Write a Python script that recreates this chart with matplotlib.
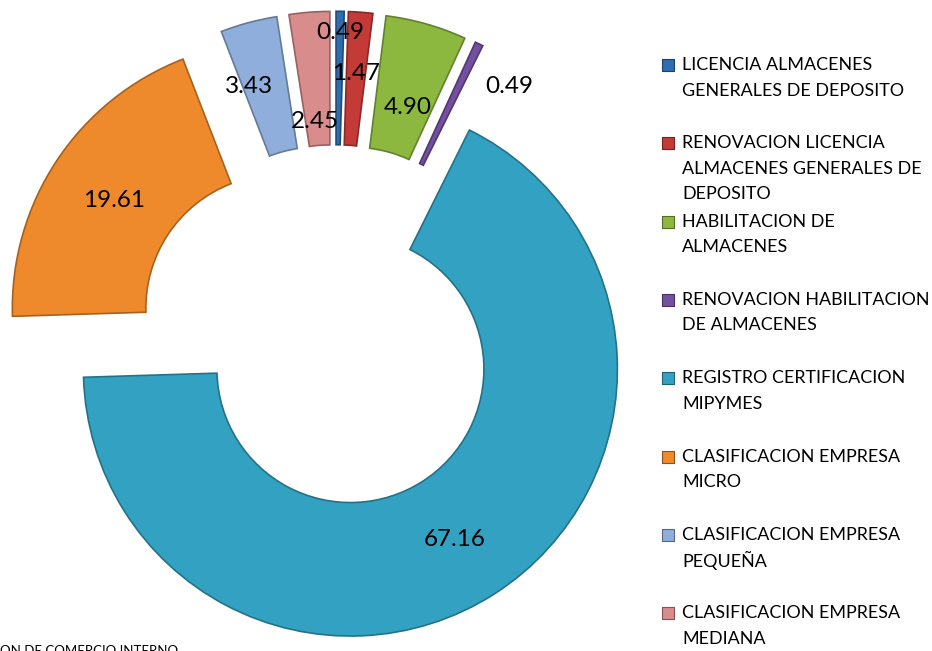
import numpy as np
import matplotlib.pyplot as plt
import matplotlib.colors as mcolors

plt.rcParams['font.family'] = ['Lato', 'DejaVu Sans']

# ---------------------------------------------
# DATA
# ---------------------------------------------
categories = [
    "LICENCIA ALMACENES GENERALES DE DEPOSITO",
    "RENOVACION LICENCIA ALMACENES GENERALES DE DEPOSITO",
    "HABILITACION DE ALMACENES",
    "RENOVACION HABILITACION DE ALMACENES",
    "REGISTRO CERTIFICACION MIPYMES",
    "CLASIFICACION EMPRESA MICRO",
    "CLASIFICACION EMPRESA PEQUEÑA",
    "CLASIFICACION EMPRESA MEDIANA",
]
values = [0.49, 1.47, 4.90, 0.49, 67.16, 19.61, 3.43, 2.45]

legend_lines = [
    ["LICENCIA ALMACENES", "GENERALES DE DEPOSITO"],
    ["RENOVACION LICENCIA", "ALMACENES GENERALES DE", "DEPOSITO"],
    ["HABILITACION DE", "ALMACENES"],
    ["RENOVACION HABILITACION", "DE ALMACENES"],
    ["REGISTRO CERTIFICACION", "MIPYMES"],
    ["CLASIFICACION EMPRESA", "MICRO"],
    ["CLASIFICACION EMPRESA", "PEQUEÑA"],
    ["CLASIFICACION EMPRESA", "MEDIANA"],
]

colors = ["#2E6DB0", "#C43A37", "#8DB840", "#7350A0",
          "#33A2C2", "#EF8A2C", "#8FAEDB", "#D98C8C"]

footnote = "ON DE COMERCIO INTERNO"

# ---------------------------------------------
# LAYOUT / STYLE
# ---------------------------------------------
W, H = 932, 651
R = 267                # outer radius (px)
HOLE = 0.5             # inner / outer radius
CENTER = (335, H - 345)
explode = [0.25, 0.25, 0.25, 0.25, 0.107, 0.25, 0.25, 0.25]

# label placement: fraction of radius and angle tweak per slice
label_r = [0.92, 0.77, 0.68, 0.92, 0.75, 0.74, 0.77, 0.59]
label_da = [0, 0, -1.5, -10.7, -1.2, 0.5, 4.4, 1.1]


def darker(c, f=0.75):
    r, g, b = mcolors.to_rgb(c)
    return (r * f, g * f, b * f)


fig = plt.figure(figsize=(W / 100, H / 100), dpi=100)
ax = fig.add_axes([0, 0, 1, 1])

wedges, _ = ax.pie(
    values, colors=colors, startangle=90, counterclock=False,
    radius=R, center=CENTER, explode=[e * R for e in explode],
    wedgeprops=dict(width=R * (1 - HOLE), linewidth=1.2),
    frame=True,
)
for w, c in zip(wedges, colors):
    w.set_edgecolor(darker(c, 0.7))

# value labels
for i, w in enumerate(wedges):
    th = np.deg2rad((w.theta1 + w.theta2) / 2 + label_da[i])
    cx, cy = w.center
    ax.text(cx + label_r[i] * w.r * np.cos(th),
            cy + label_r[i] * w.r * np.sin(th),
            f"{values[i]:.2f}", ha="center", va="center",
            fontsize=17.5, color="black", zorder=10)

# legend
LEG_X = 668
LEG_Y0 = 65
LEG_PITCH = 78.3
LINE_PITCH = 25.5
for i, lines in enumerate(legend_lines):
    y = LEG_Y0 + i * LEG_PITCH
    ax.scatter([LEG_X], [H - y], marker="s", s=80, color=colors[i],
               edgecolor=darker(colors[i], 0.6), linewidth=0.8, zorder=5)
    for j, line in enumerate(lines):
        ax.text(LEG_X + 14, H - (y + j * LINE_PITCH), line,
                ha="left", va="center", fontsize=12.9, color="black")

ax.text(0, H - 645, footnote, ha="left", va="top", fontsize=9.5, color="black")

ax.set_xlim(0, W)
ax.set_ylim(0, H)
ax.set_aspect("equal")
ax.axis("off")

fig.savefig("out.png", dpi=100, facecolor="white")
